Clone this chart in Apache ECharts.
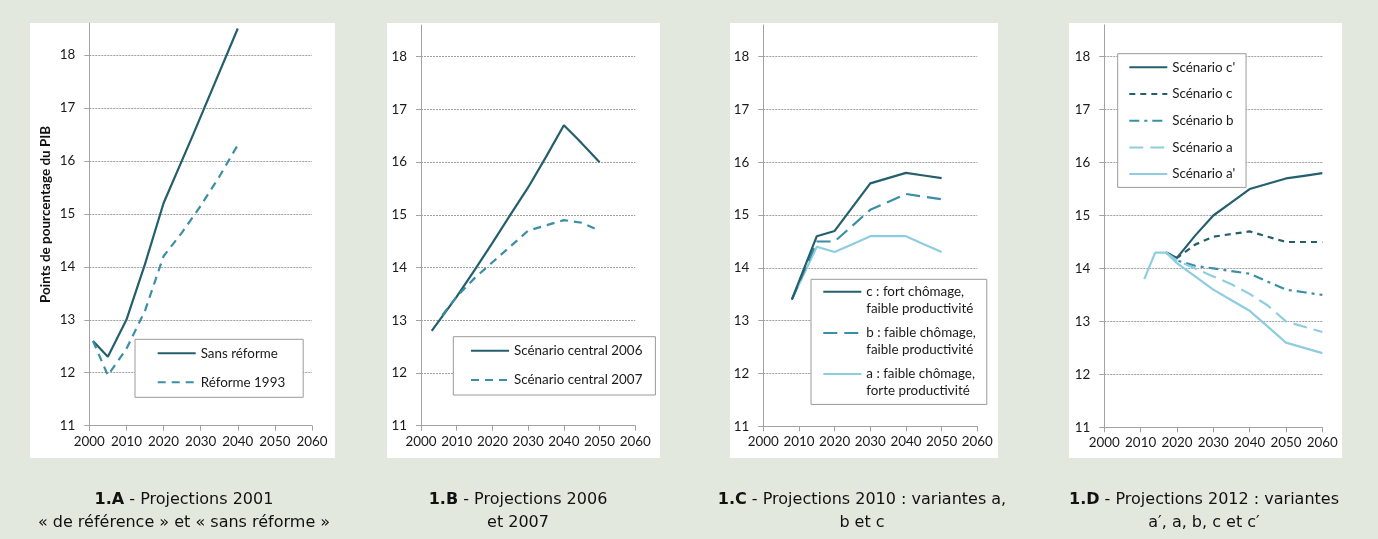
<!DOCTYPE html>
<html><head><meta charset="utf-8">
<script src="https://cdn.jsdelivr.net/npm/echarts@6/dist/echarts.min.js"></script>
<style>html,body{margin:0;padding:0;background:#e3e8df;}#c{width:1378px;height:539px;}</style>
</head><body><div id="c"></div>
<script>
// ---- tick labels ----
const xTicks = [2000, 2010, 2020, 2030, 2040, 2050, 2060];
const yTicks = [11, 12, 13, 14, 15, 16, 17, 18];

// ---- Panel 1.A ----
const aSansYears = [2001, 2005, 2010, 2015, 2020, 2028, 2040];
const aSansVals  = [12.6, 12.3, 13.0, 14.05, 15.2, 16.5, 18.5];
const aRefYears  = [2001, 2005, 2010, 2015, 2020, 2025, 2030, 2035, 2040];
const aRefVals   = [12.6, 11.95, 12.45, 13.17, 14.2, 14.65, 15.15, 15.7, 16.3];
const aNames = ['Sans réforme', 'Réforme 1993'];

// ---- Panel 1.B ----
const b06Years = [2003, 2010, 2015, 2020, 2025, 2030, 2035, 2040, 2044, 2050];
const b06Vals  = [12.8, 13.45, 13.95, 14.47, 15.0, 15.52, 16.1, 16.7, 16.43, 16.0];
const b07Years = [2006, 2010, 2015, 2020, 2025, 2030, 2035, 2040, 2045, 2050];
const b07Vals  = [13.1, 13.45, 13.8, 14.1, 14.4, 14.7, 14.8, 14.9, 14.85, 14.7];
const bNames = ['Scénario central 2006', 'Scénario central 2007'];

// ---- Panel 1.C ----
const cYears = [2008, 2015, 2020, 2025, 2030, 2035, 2040, 2045, 2050];
const cVals  = [13.4, 14.6, 14.7, 15.15, 15.6, 15.7, 15.8, 15.75, 15.7];
const cbVals = [13.4, 14.5, 14.5, 14.8, 15.1, 15.25, 15.4, 15.35, 15.3];
const caVals = [13.4, 14.4, 14.3, 14.45, 14.6, 14.6, 14.6, 14.45, 14.3];
const cNames = ['c : fort chômage,\nfaible productivité', 'b : faible chômage,\nfaible productivité', 'a : faible chômage,\nforte productivité'];

// ---- Panel 1.D ----
const dYears   = [2017, 2020, 2025, 2030, 2035, 2040, 2045, 2050, 2055, 2060];
const dCpVals  = [14.3, 14.2, 14.62, 15.0, 15.25, 15.5, 15.6, 15.7, 15.75, 15.8];
const dCVals   = [14.3, 14.2, 14.45, 14.6, 14.65, 14.7, 14.6, 14.5, 14.5, 14.5];
const dBVals   = [14.3, 14.15, 14.05, 14.0, 13.95, 13.9, 13.75, 13.6, 13.55, 13.5];
const dAVals   = [14.3, 14.15, 14.0, 13.85, 13.7, 13.52, 13.3, 13.0, 12.9, 12.8];
const dApYears = [2011, 2014, 2017, 2020, 2025, 2030, 2035, 2040, 2045, 2050, 2055, 2060];
const dApVals  = [13.8, 14.3, 14.3, 14.1, 13.85, 13.6, 13.4, 13.2, 12.9, 12.6, 12.5, 12.4];
const dNames = ["Scénario c'", 'Scénario c', 'Scénario b', 'Scénario a', "Scénario a'"];

// ---- captions ----
const captions = [
  ['1.A', ' - Projections 2001', '« de référence » et « sans réforme »'],
  ['1.B', ' - Projections 2006', 'et 2007'],
  ['1.C', ' - Projections 2010 : variantes a,', 'b et c'],
  ['1.D', ' - Projections 2012 : variantes', 'a′, a, b, c et c′']
];

// ---- styling / layout ----
const DARK = '#245f6e', MID = '#3a8ea5', LIGHT = '#8ecde0';
const FONT = 'Lato';
const CAPFONT = '"DejaVu Sans"';
const layout = [
  {grid: {left: 89.3, top: 23.2, width: 222.7, height: 402.5}, panel: [30, 23, 305, 435], cx: 184},
  {grid: {left: 421, top: 25.1, width: 214.3, height: 400.6}, panel: [387, 23, 273, 435], cx: 518},
  {grid: {left: 763.3, top: 25.0, width: 214, height: 401.3}, panel: [730, 23, 268, 435], cx: 862},
  {grid: {left: 1104.3, top: 24.9, width: 218, height: 402.4}, panel: [1069, 23, 273, 435], cx: 1204}
];

function pairs(xs, ys) { return xs.map((x, i) => [x, ys[i]]); }
function line(name, idx, xs, ys, color, type) {
  return {
    name, type: 'line', xAxisIndex: idx, yAxisIndex: idx,
    data: pairs(xs, ys), symbol: 'none', silent: true, animation: false,
    lineStyle: {color, width: 2.2, type: type || 'solid', cap: 'butt'},
    itemStyle: {color}
  };
}

const series = [
  line(aNames[0], 0, aSansYears, aSansVals, DARK),
  line(aNames[1], 0, aRefYears, aRefVals, MID, [8, 6]),
  line(bNames[0], 1, b06Years, b06Vals, DARK),
  line(bNames[1], 1, b07Years, b07Vals, MID, [8, 6]),
  line(cNames[2], 2, cYears, caVals, LIGHT),
  line(cNames[1], 2, cYears, cbVals, MID, [14, 7]),
  line(cNames[0], 2, cYears, cVals, DARK),
  line(dNames[0], 3, dYears, dCpVals, DARK),
  line(dNames[1], 3, dYears, dCVals, DARK, [6, 5]),
  line(dNames[2], 3, dYears, dBVals, MID, [10, 5, 3, 5]),
  line(dNames[3], 3, dYears, dAVals, LIGHT, [14, 7]),
  line(dNames[4], 3, dApYears, dApVals, LIGHT)
];

const AX = '#a2a2a2';
const xAxis = layout.map((l, i) => ({
  type: 'value', gridIndex: i, min: xTicks[0], max: xTicks[xTicks.length - 1], interval: 10,
  axisLine: {show: true, onZero: false, lineStyle: {color: AX, width: 1}},
  axisTick: {show: true, length: 5, lineStyle: {color: AX}},
  axisLabel: {color: '#1a1a1a', fontFamily: FONT, fontSize: 13.4, margin: 9, formatter: v => String(v)},
  splitLine: {show: false}
}));
const yAxis = layout.map((l, i) => ({
  type: 'value', gridIndex: i, min: yTicks[0], max: 18.6, interval: 1,
  axisLine: {show: true, onZero: false, lineStyle: {color: AX, width: 1}},
  axisTick: {show: true, length: 5, lineStyle: {color: AX}, customValues: yTicks},
  axisLabel: {color: '#1a1a1a', fontFamily: FONT, fontSize: 13.4, margin: 14, customValues: yTicks,
    formatter: v => String(v)},
  splitLine: {show: true, showMinLine: false, lineStyle: {color: '#a0a0a0', width: 1, type: [2, 1]}},
  name: i === 0 ? 'Points de pourcentage du PIB' : '',
  nameLocation: 'middle', nameGap: 37, nameRotate: 90,
  nameTextStyle: {fontFamily: FONT, fontWeight: 'bold', fontSize: 13.5, color: '#111', padding: [0, 0, 0, 20]}
}));

const legBase = {
  orient: 'vertical', selectedMode: false, itemWidth: 38, itemHeight: 16,
  backgroundColor: '#ffffff', borderColor: '#9a9a9a', borderWidth: 1, borderRadius: 0,
  itemStyle: {color: 'rgba(0,0,0,0)', borderColor: 'rgba(0,0,0,0)', borderWidth: 0, opacity: 0},
  textStyle: {fontFamily: FONT, fontSize: 13.4, color: '#1a1a1a', lineHeight: 16}
};
const legend = [
  Object.assign({}, legBase, {data: aNames, left: 135, top: 339.3, itemGap: 13, padding: [6, 18, 7, 21.7]}),
  Object.assign({}, legBase, {data: bNames, left: 453.3, top: 336.7, itemGap: 13.3, padding: [6, 13, 7, 16.7]}),
  Object.assign({}, legBase, {data: cNames, left: 811, top: 279.3, itemGap: -8.6, padding: [-12.5, 11, 5.4, 11.3],
    formatter: name => '\n' + name,
    textStyle: {fontFamily: FONT, fontSize: 13.4, color: '#1a1a1a', lineHeight: 16.6}}),
  Object.assign({}, legBase, {data: dNames, left: 1117.7, top: 53.7, itemGap: 10.7, padding: [5.6, 10.7, 5.3, 10.6]})
];

const graphic = [];
layout.forEach((l, i) => {
  graphic.push({type: 'rect', z: -10, silent: true,
    shape: {x: l.panel[0], y: l.panel[1], width: l.panel[2], height: l.panel[3]},
    style: {fill: '#ffffff'}});
  graphic.push({type: 'text', x: l.cx, y: 511.5, silent: true,
    style: {
      text: '{b|' + captions[i][0] + '}' + captions[i][1] + '\n' + captions[i][2],
      align: 'center', verticalAlign: 'middle',
      font: '16px ' + CAPFONT, fill: '#111', lineHeight: 23,
      rich: {b: {fontWeight: 'bold', fontSize: 16, fontFamily: CAPFONT, fill: '#111', lineHeight: 23}}
    }});
});

const chart = echarts.init(document.getElementById('c'), null, {renderer: 'canvas'});
chart.setOption({
  backgroundColor: '#e3e8df',
  animation: false,
  grid: layout.map(l => Object.assign({containLabel: false}, l.grid)),
  xAxis, yAxis, series, legend, graphic
});
</script></body></html>
